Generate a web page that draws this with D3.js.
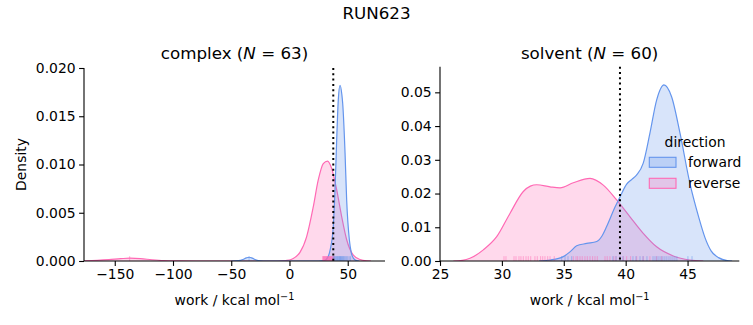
<!DOCTYPE html>
<html><head><meta charset="utf-8">
<script src="https://cdn.jsdelivr.net/npm/d3@7"></script>
<style>
body{margin:0;background:#fff}
text{font-family:"DejaVu Sans",sans-serif;fill:#000}
</style>
</head><body>
<svg id="chart" width="753" height="325"></svg>
<script>
const suptitle = "RUN623";
const panelNames = ["complex", "solvent"];
const panelN = [63, 60];
const directions = ["forward", "reverse"];
const directionColors = ["#6495ED", "#FF69B4"];

const complexXTicks = [-150, -100, -50, 0, 50];
const complexYTicks = [0, 0.005, 0.010, 0.015, 0.020];
const solventXTicks = [25, 30, 35, 40, 45];
const solventYTicks = [0, 0.01, 0.02, 0.03, 0.04, 0.05];

const complexDeltaG = 37.6;
const solventDeltaG = 39.54;

// density curves: [work, density]
const complexForwardDensity = [[-50,0],[-44,0.00003],[-40,0.00015],[-37,0.00032],[-34.7,0.00039],[-32,0.0003],[-29,0.00013],[-25,0.00002],[-20,0],[25,0],[30,0.00005],[33,0.0004],[35,0.0012],[37.6,0.0036],[39.1,0.0074],[40.5,0.0125],[41.9,0.0167],[43.4,0.0182],[45,0.0172],[45.7,0.0163],[47.7,0.0112],[49.1,0.0063],[51.4,0.0022],[53,0.0009],[54.8,0.0003],[57.7,0.00003],[60,0]];
const complexReverseDensity = [[-176,0.00002],[-165,0.00007],[-155,0.00014],[-145,0.00024],[-137,0.0003],[-128,0.00025],[-118,0.00013],[-108,0.00004],[-98,0.00001],[-80,0],[-10,0],[-3,0.00005],[1.4,0.00015],[5,0.0004],[9,0.0009],[14.7,0.0025],[20.4,0.0056],[24.7,0.0084],[29,0.0101],[32.7,0.01036],[36.2,0.0096],[40.5,0.0074],[44.8,0.0046],[49.1,0.0022],[54.8,0.0006],[60.6,0.00015],[66.3,0.00002],[70,0]];
const solventForwardDensity = [[33.0,0],[33.9,0.0003],[34.96,0.0013],[35.5,0.0027],[36.04,0.0045],[36.85,0.0052],[37.66,0.0058],[38.1,0.0075],[38.46,0.0102],[39.14,0.016],[39.54,0.019],[40.08,0.0228],[40.5,0.0242],[40.89,0.0255],[41.42,0.029],[41.96,0.0379],[42.5,0.0477],[43.09,0.0522],[43.71,0.0487],[44.39,0.0379],[45.19,0.023],[45.9,0.013],[46.4,0.007],[46.9,0.003],[47.5,0.001],[48.2,0.0001],[48.6,0]];
const solventReverseDensity = [[26.08,0],[26.8,0.0002],[27.42,0.0008],[28.5,0.0033],[29.58,0.0072],[30.65,0.0141],[31.73,0.0206],[32.3,0.0222],[32.81,0.0226],[33.89,0.0220],[34.7,0.0217],[35.77,0.0232],[37.12,0.0245],[38.19,0.0225],[39.27,0.0181],[40.35,0.0131],[41.42,0.0082],[42.5,0.0042],[43.85,0.0015],[45.19,0.0003],[46.27,0]];

// rug samples (work values)
const complexForwardWork = [-34.7, 37.5, 38.2, 38.8, 39.4, 40.1, 40.6, 41.2, 41.7, 42.3, 42.8, 43.2, 43.7, 44.1, 44.6, 45.2, 45.7, 46.3, 46.9, 47.6, 48.4, 49.2, 50.1, 51.3, 52.4];
const complexReverseWork = [-137.2, 28.6, 28.9, 29.3, 29.6, 30.1, 30.4, 30.8, 31.2, 31.5, 31.9, 32.2, 32.6, 33.0, 33.3, 33.7, 34.1, 34.4, 34.9, 35.3, 35.6, 36.0, 36.5, 36.9, 37.4, 37.8, 38.5];
const solventForwardWork = [34.83,35.10,35.34,35.64,38.97,39.22,39.54,39.78,40.59,40.83,41.16,41.40,41.72,42.21,42.37,42.53,42.69,42.85,43.01,43.17,43.33,43.50,43.66,43.82,43.98,44.14,45.03,45.36];
const solventReverseWork = [30.17,30.33,30.98,31.14,31.38,31.54,31.73,31.95,32.13,32.33,32.67,32.86,33.13,33.30,33.48,33.70,33.89,34.23,35.77,35.99,36.12,36.31,36.49,36.71,36.90,37.12,37.33,37.52,37.71,38.33,38.51,38.73,39.05,39.22,39.54,39.81,40.08,40.40,40.89,41.42,41.96,42.50,42.91];

const svg = d3.select("#chart");
const FS = 13.9;

svg.append("text").attr("x", 376.5).attr("y", 19).attr("text-anchor", "middle")
  .style("font-size", "16.7px").text(suptitle);

const panels = [
  { name: panelNames[0], n: panelN[0], xr: [84, 385], yr: [261, 68], xd: [-176.4, 82], yd: [0, 0.020],
    xt: complexXTicks, yt: complexYTicks, yfmt: d3.format(".3f"), dg: complexDeltaG,
    dens: [complexForwardDensity, complexReverseDensity], rug: [complexForwardWork, complexReverseWork], ylabel: true },
  { name: panelNames[1], n: panelN[1], xr: [440, 739.3], yr: [261, 66.7], xd: [25, 49.18], yd: [0, 0.0576],
    xt: solventXTicks, yt: solventYTicks, yfmt: d3.format(".2f"), dg: solventDeltaG,
    dens: [solventForwardDensity, solventReverseDensity], rug: [solventForwardWork, solventReverseWork], ylabel: false }
];

panels.forEach(p => {
  const x = d3.scaleLinear().domain(p.xd).range(p.xr);
  const y = d3.scaleLinear().domain(p.yd).range(p.yr);
  const g = svg.append("g");
  const clipId = "clip-" + p.name;
  svg.append("clipPath").attr("id", clipId).append("rect")
    .attr("x", p.xr[0]).attr("y", p.yr[1]).attr("width", p.xr[1] - p.xr[0]).attr("height", p.yr[0] - p.yr[1]);
  const plot = g.append("g").attr("clip-path", `url(#${clipId})`);

  // draw reverse first, forward on top
  [1, 0].forEach(i => {
    const area = d3.area().x(d => x(d[0])).y0(y(0)).y1(d => y(d[1])).curve(d3.curveMonotoneX);
    const line = d3.line().x(d => x(d[0])).y(d => y(d[1])).curve(d3.curveMonotoneX);
    plot.append("path").attr("d", area(p.dens[i])).attr("fill", directionColors[i]).attr("fill-opacity", 0.25);
    plot.append("path").attr("d", line(p.dens[i])).attr("fill", "none").attr("stroke", directionColors[i]).attr("stroke-width", 1.2);
  });

  // rugs
  const rugH = 0.025 * (p.yr[0] - p.yr[1]);
  [1, 0].forEach(i => {
    plot.selectAll(null).data(p.rug[i]).enter().append("line")
      .attr("x1", d => x(d)).attr("x2", d => x(d))
      .attr("y1", y(0)).attr("y2", y(0) - rugH)
      .attr("stroke", directionColors[i]).attr("stroke-width", 1).attr("stroke-opacity", 0.5);
  });

  // dotted line
  g.append("line").attr("x1", x(p.dg)).attr("x2", x(p.dg)).attr("y1", p.yr[1]).attr("y2", p.yr[0])
    .attr("stroke", "#000").attr("stroke-width", 2).attr("stroke-dasharray", "2,3.3");

  // axes
  const xAxis = d3.axisBottom(x).tickValues(p.xt).tickSize(4.9).tickPadding(3.5).tickFormat(d3.format("d"));
  const gx = g.append("g").attr("transform", `translate(0,${p.yr[0]})`).call(xAxis);
  const yAxis = d3.axisLeft(y).tickValues(p.yt).tickSize(4.9).tickPadding(3.5).tickFormat(p.yfmt);
  const gy = g.append("g").attr("transform", `translate(${p.xr[0]},0)`).call(yAxis);
  [gx, gy].forEach(a => {
    a.select(".domain").attr("stroke-width", 1.1).attr("d", null);
    a.selectAll(".tick line").attr("stroke-width", 1.1);
    a.selectAll(".tick text").style("font-size", FS + "px").style("font-family", "DejaVu Sans");
  });
  gx.select(".domain").remove();
  gy.select(".domain").remove();
  g.append("line").attr("x1", p.xr[0]).attr("x2", p.xr[1]).attr("y1", p.yr[0]).attr("y2", p.yr[0]).attr("stroke", "#000").attr("stroke-width", 1.1);
  g.append("line").attr("x1", p.xr[0]).attr("x2", p.xr[0]).attr("y1", p.yr[0]).attr("y2", p.yr[1]).attr("stroke", "#000").attr("stroke-width", 1.1);

  // title
  const cx = (p.xr[0] + p.xr[1]) / 2;
  const t = g.append("text").attr("x", cx).attr("y", 59).attr("text-anchor", "middle").style("font-size", "16.7px");
  t.append("tspan").text(p.name + " (");
  t.append("tspan").style("font-style", "italic").text("N");
  t.append("tspan").text(" = " + p.n + ")");

  // x label
  const xl = g.append("text").attr("x", cx).attr("y", 305).attr("text-anchor", "middle").style("font-size", FS + "px");
  xl.append("tspan").text("work / kcal mol");
  xl.append("tspan").attr("dy", -5).style("font-size", "9.7px").text("\u22121");

  if (p.ylabel) {
    svg.append("text").attr("transform", `translate(26,${(p.yr[0] + p.yr[1]) / 2}) rotate(-90)`)
      .attr("text-anchor", "middle").style("font-size", FS + "px").text("Density");
  }
});

// legend
const lg = svg.append("g");
lg.append("text").attr("x", 695).attr("y", 146.5).attr("text-anchor", "middle").style("font-size", FS + "px").text("direction");
directions.forEach((d, i) => {
  const yy = 157.3 + i * 21;
  lg.append("rect").attr("x", 649.3).attr("y", yy).attr("width", 26.7).attr("height", 10)
    .attr("fill", directionColors[i]).attr("fill-opacity", 0.25)
    .attr("stroke", directionColors[i]).attr("stroke-width", 1.1);
  lg.append("text").attr("x", 688).attr("y", yy + 10).style("font-size", FS + "px").text(d);
});
</script>
</body></html>
